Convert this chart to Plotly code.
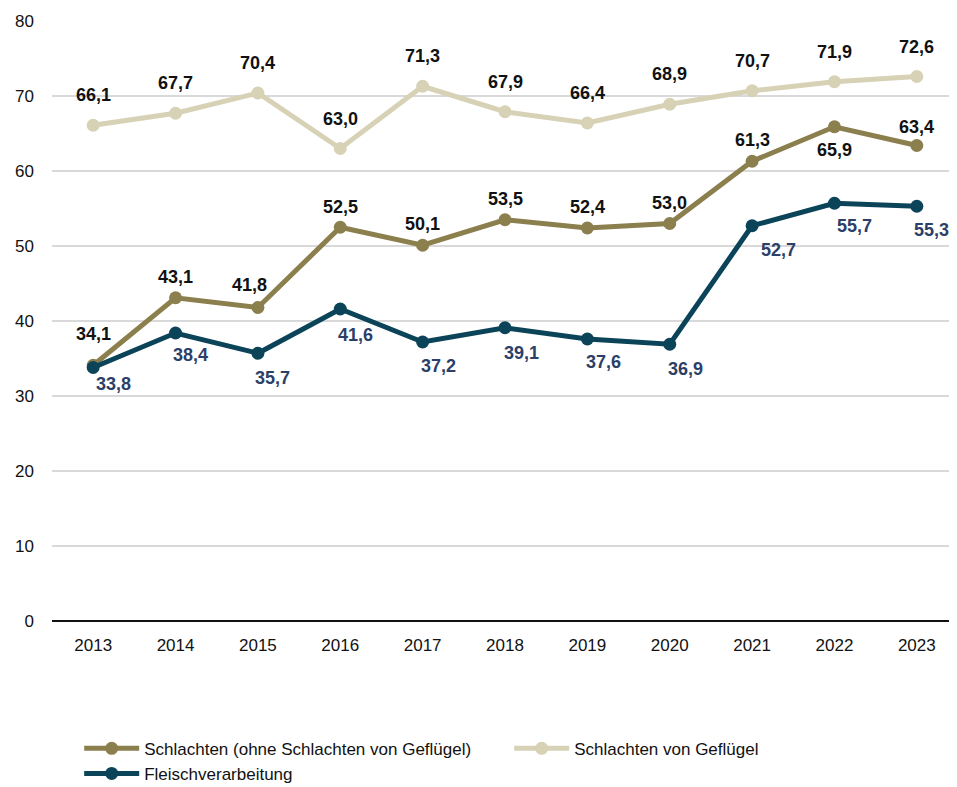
import plotly.graph_objects as go

years = ["2013", "2014", "2015", "2016", "2017", "2018", "2019", "2020", "2021", "2022", "2023"]
schlachten = [34.1, 43.1, 41.8, 52.5, 50.1, 53.5, 52.4, 53.0, 61.3, 65.9, 63.4]
gefluegel = [66.1, 67.7, 70.4, 63.0, 71.3, 67.9, 66.4, 68.9, 70.7, 71.9, 72.6]
fleisch = [33.8, 38.4, 35.7, 41.6, 37.2, 39.1, 37.6, 36.9, 52.7, 55.7, 55.3]

names = ["Schlachten (ohne Schlachten von Geflügel)", "Schlachten von Geflügel", "Fleischverarbeitung"]
colors = ["#8B7F4E", "#D7D2B6", "#0B4458"]
label_colors = ["#111111", "#111111", "#2C3F68"]

# label offsets in pixels (x, y) - styling only
off_s = [(0, 31), (0, 21), (-8, 23), (0, 20), (0, 21), (0, 21), (0, 21), (0, 21), (0, 21), (0, -23), (0, 19)]
off_g = [(0, 30)] * 11
off_f = [(20, -16), (15, -22), (15, -25), (15, -26), (16, -24), (16, -25), (16, -23), (16, -25), (26, -24), (20, -23), (15, -24)]

def fmt(v):
    return f"{v:.1f}".replace(".", ",")

FONT = "Liberation Sans, Arial, sans-serif"

fig = go.Figure()
annotations = []
for vals, name, col, lc, offs in zip([schlachten, gefluegel, fleisch], names, colors, label_colors, [off_s, off_g, off_f]):
    fig.add_trace(go.Scatter(
        x=years, y=vals, name=name, mode="lines+markers",
        line=dict(color=col, width=5), marker=dict(color=col, size=13),
        cliponaxis=False,
    ))
    for i, (v, (dx, dy)) in enumerate(zip(vals, offs)):
        annotations.append(dict(
            x=i, y=v, xref="x", yref="y", text=fmt(v), showarrow=False,
            xshift=dx, yshift=dy,
            font=dict(family=FONT, size=18, color=lc, weight="bold"),
        ))

fig.update_layout(
    width=957, height=787,
    margin=dict(l=44, r=7, t=13, b=174, autoexpand=False),
    plot_bgcolor="white", paper_bgcolor="white",
    font=dict(family=FONT, size=17, color="#111111"),
    showlegend=True,
    annotations=annotations,
    legend=dict(orientation="h", x=0.03, y=-0.183, xanchor="left", yanchor="top",
                entrywidth=360, entrywidthmode="pixels", font=dict(size=17),
                itemwidth=55, traceorder="normal"),
    xaxis=dict(type="category", categoryorder="array", categoryarray=years,
               range=[-0.5, len(years) - 0.5], showgrid=False, ticks="", showline=False,
               tickfont=dict(size=17), ticklabelstandoff=12),
    yaxis=dict(range=[0, 80], dtick=10, showgrid=True, gridcolor="#D9D9D9", gridwidth=2,
               zeroline=True, zerolinecolor="#111111", zerolinewidth=2,
               ticks="", tickfont=dict(size=17), ticklabelstandoff=17),
)

fig.write_html("out.html")
